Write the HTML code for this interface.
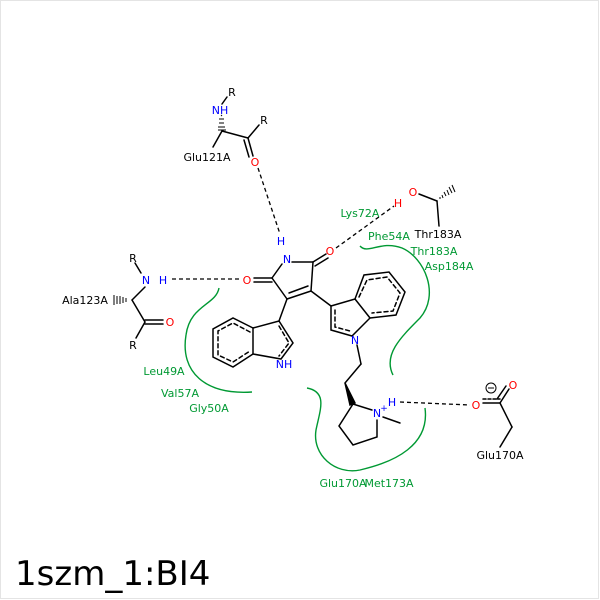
<!DOCTYPE html>
<html><head><meta charset="utf-8"><style>
html,body{margin:0;padding:0;background:#fff}
svg{display:block}
text{font-family:"DejaVu Sans","Liberation Sans",sans-serif;font-size:11px}
.k{fill:#000}.b{fill:#0000ff}.r{fill:#ff0000}.g{fill:#009933}
</style></head><body>
<svg width="600" height="600" viewBox="0 0 600 600" xmlns="http://www.w3.org/2000/svg">
<rect x="0.5" y="0.5" width="598" height="598" fill="#fff" stroke="#e4e4e4"/>
<g stroke="#000" stroke-width="1.5" fill="none" stroke-linecap="round">
<line x1="292" y1="262" x2="313" y2="262"/>
<line x1="313" y1="262" x2="311" y2="291"/>
<line x1="311" y1="291" x2="287" y2="299"/>
<line x1="308" y1="286" x2="289" y2="293"/>
<line x1="287" y1="299" x2="272" y2="278"/>
<line x1="272" y1="278" x2="282" y2="264"/>
<line x1="313" y1="262" x2="326" y2="254"/>
<line x1="315" y1="266" x2="328" y2="258"/>
<line x1="272" y1="278" x2="254" y2="278"/>
<line x1="272" y1="282" x2="254" y2="282"/>
<line x1="287" y1="299" x2="279" y2="321"/>
<polygon points="253,328 279,321 293,343 281,359 253,354"/>
<polyline points="253,328 233,318 213,329 213,357 233,367 253,354"/>
<polyline points="250,332 233,323 218,331 218,355 233,362 250,351" stroke-dasharray="4,3"/>
<polyline points="279,326 289,343 279,356" stroke-dasharray="4,3"/>
<line x1="311" y1="291" x2="331" y2="306"/>
<polygon points="331,306 355,299 370,318 352,336 331,330"/>
<polyline points="355,299 364,275 389,272 405,292 396,315 370,318"/>
<polyline points="359,297 367,280 387,277 400,293 393,311 372,313" stroke-dasharray="4,3"/>
<polyline points="335,310 335,327 350,331" stroke-dasharray="4,3"/>
<line x1="357" y1="345" x2="361" y2="364"/>
<line x1="361" y1="364" x2="345" y2="383"/>
<polygon points="345,383 350,405 355,403" fill="#000"/>
<polyline points="372,410 353,404 339,426 353,445 377,437 377,420"/>
<line x1="383" y1="417" x2="400" y2="423"/>
<line x1="227" y1="97" x2="222" y2="104"/>
<line x1="222" y1="131" x2="248" y2="138"/>
<line x1="248" y1="138" x2="259" y2="125"/>
<line x1="222" y1="131" x2="213" y2="147"/>
<line x1="248" y1="138" x2="253" y2="156"/>
<line x1="244" y1="140" x2="249" y2="157"/>
<line x1="419" y1="194" x2="437" y2="201"/>
<line x1="437" y1="201" x2="439" y2="226"/>
<line x1="135" y1="263" x2="141" y2="273"/>
<line x1="145" y1="287" x2="132" y2="300"/>
<line x1="132" y1="300" x2="145" y2="322"/>
<line x1="145" y1="320" x2="163" y2="320"/>
<line x1="145" y1="324" x2="163" y2="324"/>
<line x1="145" y1="322" x2="136" y2="338"/>
<line x1="483" y1="403" x2="500" y2="403"/>
<line x1="483" y1="399" x2="500" y2="399" stroke-dasharray="3,2"/>
<line x1="500" y1="403" x2="509" y2="389"/>
<line x1="497" y1="399" x2="506" y2="386"/>
<line x1="500" y1="403" x2="512" y2="427"/>
<line x1="512" y1="427" x2="500" y2="447"/>
</g>
<g stroke="#000" stroke-width="1">
<line x1="221" y1="115" x2="222" y2="116"/><line x1="219" y1="119" x2="224" y2="119"/><line x1="219" y1="123" x2="224" y2="123"/><line x1="218" y1="127" x2="225" y2="127"/><line x1="218" y1="130" x2="226" y2="130"/>
<line x1="440" y1="199" x2="440" y2="197"/><line x1="443" y1="198" x2="442" y2="195"/><line x1="446" y1="196" x2="444" y2="192"/><line x1="449" y1="195" x2="447" y2="190"/><line x1="452" y1="193" x2="449" y2="187"/><line x1="455" y1="192" x2="452" y2="185"/>
<line x1="129" y1="300" x2="129" y2="300"/><line x1="126" y1="298" x2="126" y2="302"/><line x1="123" y1="297" x2="123" y2="303"/><line x1="120" y1="296" x2="120" y2="304"/><line x1="117" y1="296" x2="117" y2="304"/><line x1="114" y1="295" x2="114" y2="305"/>
</g>
<g stroke="#000" stroke-width="1.3" stroke-dasharray="4,3" fill="none">
<line x1="258" y1="168" x2="280" y2="234"/>
<line x1="336" y1="248" x2="394" y2="206"/>
<line x1="172" y1="279" x2="240" y2="279"/>
<line x1="400" y1="402" x2="470" y2="405"/>
</g>
<g stroke="#009933" stroke-width="1.4" fill="none">
<path d="M219,288 C216,305 190,305 186,335 C180,372 205,395 252,392"/>
<path d="M360,246 C368,255 380,240 402,248 C425,258 440,295 420,318 C400,338 383,355 393,375"/>
<path d="M307,388 C328,392 320,410 316,430 C312,455 335,475 360,470 C395,462 430,445 425,408"/>
</g>
<text class="b" x="281" y="245" text-anchor="middle">H</text>
<text class="b" x="287" y="263" text-anchor="middle">N</text>
<text class="r" x="330" y="255" text-anchor="middle">O</text>
<text class="r" x="247" y="284" text-anchor="middle">O</text>
<text class="b" x="284" y="368" text-anchor="middle">NH</text>
<text class="b" x="355" y="344" text-anchor="middle">N</text>
<text class="b" x="377" y="417" text-anchor="middle">N</text>
<text class="b" x="384" y="411" text-anchor="middle" style="font-size:9px">+</text>
<text class="b" x="392" y="406" text-anchor="middle">H</text>
<text class="k" x="232" y="96" text-anchor="middle">R</text>
<text class="b" x="220" y="114" text-anchor="middle">NH</text>
<text class="k" x="264" y="124" text-anchor="middle">R</text>
<text class="r" x="255" y="166" text-anchor="middle">O</text>
<text class="k" x="207" y="161" text-anchor="middle">Glu121A</text>
<text class="r" x="413" y="196" text-anchor="middle">O</text>
<text class="r" x="398" y="207" text-anchor="middle">H</text>
<text class="k" x="438" y="238" text-anchor="middle">Thr183A</text>
<text class="k" x="133" y="262" text-anchor="middle">R</text>
<text class="b" x="146" y="284" text-anchor="middle">N</text>
<text class="b" x="163" y="284" text-anchor="middle">H</text>
<text class="k" x="85" y="304" text-anchor="middle">Ala123A</text>
<text class="r" x="170" y="326" text-anchor="middle">O</text>
<text class="k" x="133" y="349" text-anchor="middle">R</text>
<text class="r" x="476" y="409" text-anchor="middle">O</text>
<text class="r" x="513" y="389" text-anchor="middle">O</text>
<circle cx="491" cy="388" r="5" fill="none" stroke="#000" stroke-width="1"/>
<line x1="488" y1="388" x2="494" y2="388" stroke="#000" stroke-width="1"/>
<text class="k" x="500" y="459" text-anchor="middle">Glu170A</text>
<text class="g" x="360" y="217" text-anchor="middle">Lys72A</text>
<text class="g" x="389" y="240" text-anchor="middle">Phe54A</text>
<text class="g" x="434" y="255" text-anchor="middle">Thr183A</text>
<text class="g" x="449" y="270" text-anchor="middle">Asp184A</text>
<text class="g" x="164" y="375" text-anchor="middle">Leu49A</text>
<text class="g" x="180" y="397" text-anchor="middle">Val57A</text>
<text class="g" x="209" y="412" text-anchor="middle">Gly50A</text>
<text class="g" x="343" y="487" text-anchor="middle">Glu170A</text>
<text class="g" x="389" y="487" text-anchor="middle">Met173A</text>
<text x="15" y="585" style="font-size:34px" fill="#000">1szm_1:BI4</text>
</svg>
</body></html>
